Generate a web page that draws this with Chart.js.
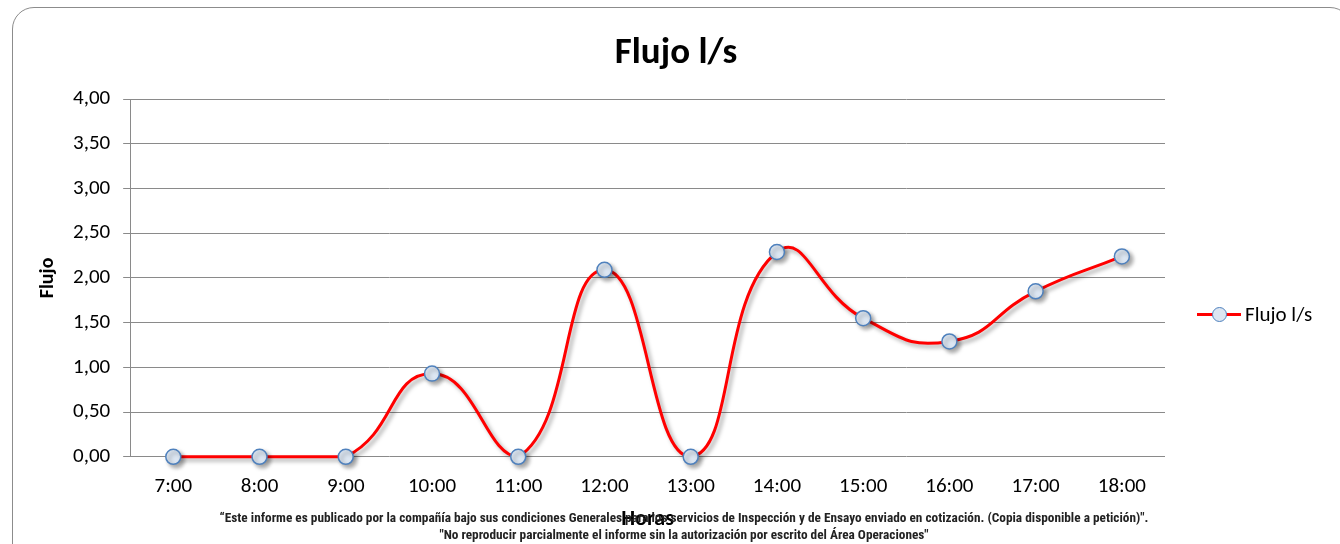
<!DOCTYPE html>
<html>
<head>
<meta charset="utf-8">
<script src="https://cdn.jsdelivr.net/npm/chart.js@4.4.1/dist/chart.umd.min.js"></script>
<style>
  html, body { margin: 0; padding: 0; background: #fff; }
  #wrap { position: relative; width: 1340px; height: 544px; overflow: hidden; }
  #frame { position: absolute; left: 12px; top: 7px; width: 1340px; height: 560px;
    border: 1.5px solid #8c8c8c; border-radius: 22px; box-sizing: border-box; }
  canvas { position: absolute; left: 0; top: 0; }
  #title { position: absolute; left: 12px; width: 1328px; top: 29px; text-align: center; font-family: Carlito, Lato, sans-serif; font-weight: bold; font-size: 37px; line-height: 44px; color: #000; }
  #legend { position: absolute; left: 1197px; top: 301px; height: 26px; font-family: Carlito, Lato, sans-serif; font-size: 21px; color: #000; }
  #legend .ln { position: absolute; left: 0; top: 12px; width: 44px; height: 3px; background: #ff0000; }
  #legend .pt { position: absolute; left: 15px; top: 6px; width: 13px; height: 13px; border-radius: 50%; background: #dce6f2; border: 1.5px solid #4f81bd; }
  #legend .tx { position: absolute; left: 48px; top: 0; line-height: 26px; white-space: nowrap; }
  .foot { position: absolute; left: 0; width: 1368px; text-align: center; font-family: "Liberation Sans Narrow", "Arial Narrow", "Roboto Condensed", sans-serif; font-weight: bold; font-size: 13.3px; color: #222; white-space: nowrap; }
</style>
</head>
<body>
<div id="wrap">
  <div id="frame"></div>
  <canvas id="c" width="1340" height="544"></canvas>
  <div id="title"></div>
  <div id="legend"><div class="ln"></div><div class="pt"></div><div class="tx"></div></div>
  <div class="foot" style="top:510px">“Este informe es publicado por la compañía bajo sus condiciones Generales para los servicios de Inspección y de Ensayo enviado en cotización. (Copia disponible a petición)".</div>
  <div class="foot" style="top:527px">"No reproducir parcialmente el informe sin la autorización por escrito del Área Operaciones"</div>
</div>
<script>
const categories = ["7:00","8:00","9:00","10:00","11:00","12:00","13:00","14:00","15:00","16:00","17:00","18:00"];
const flujo = [0, 0, 0, 0.93, 0, 2.09, 0, 2.29, 1.55, 1.29, 1.85, 2.24];
const seriesName = "Flujo l/s";
const chartTitle = "Flujo l/s";
const xTitle = "Horas";
const yTitle = "Flujo";

document.getElementById('title').textContent = chartTitle;
document.querySelector('#legend .tx').textContent = seriesName;

const shadowPlugin = {
  id: 'shadow',
  beforeDatasetsDraw(chart) {
    const ctx = chart.ctx;
    ctx.save();
    ctx.shadowColor = 'rgba(0,0,0,0.35)';
    ctx.shadowBlur = 4;
    ctx.shadowOffsetX = 3;
    ctx.shadowOffsetY = 3;
  },
  afterDatasetsDraw(chart) { chart.ctx.restore(); }
};

const fontFam = "Carlito, Lato, sans-serif";
new Chart(document.getElementById('c'), {
  type: 'line',
  data: {
    labels: categories,
    datasets: [{
      label: seriesName,
      data: flujo,
      borderColor: '#ff0000',
      borderWidth: 3,
      tension: 0.5,
      pointRadius: 7.5,
      pointHoverRadius: 7.5,
      pointBackgroundColor: '#dce6f2',
      pointBorderColor: '#4f81bd',
      pointBorderWidth: 1.5,
      clip: false
    }]
  },
  options: {
    responsive: false,
    animation: false,
    devicePixelRatio: 1,
    layout: { padding: { left: 36, right: 175, top: 99, bottom: 14 } },
    plugins: {
      legend: { display: false },
      tooltip: { enabled: false },
      title: { display: false }
    },
    scales: {
      x: {
        offset: true,
        grid: { display: false },
        border: { display: false },
        ticks: { color: '#000', font: { family: fontFam, size: 21 }, padding: 9, maxRotation: 0 },
        title: { display: true, text: xTitle, color: '#000', font: { family: fontFam, size: 22, weight: 'bold', lineHeight: 1.0 }, padding: { top: 0, bottom: 0 } }
      },
      y: {
        min: 0, max: 4,
        ticks: { stepSize: 0.5, color: '#000', font: { family: fontFam, size: 21 }, padding: 13,
          callback: v => v.toFixed(2).replace('.', ',') },
        grid: { color: '#8a8a8a', lineWidth: 1, tickLength: 7, drawTicks: true },
        border: { display: true, color: '#8a8a8a', width: 1 },
        title: { display: true, text: yTitle, color: '#000', font: { family: fontFam, size: 20, weight: 'bold' }, padding: { top: 0, bottom: 0 } }
      }
    }
  },
  plugins: [shadowPlugin]
});
</script>
</body>
</html>
